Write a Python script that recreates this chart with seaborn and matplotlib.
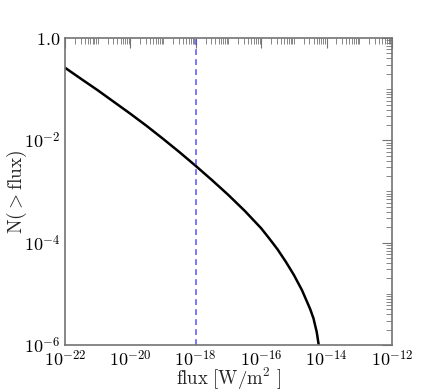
import matplotlib
matplotlib.use("Agg")
import matplotlib.pyplot as plt
import matplotlib.ticker as mticker
import numpy as np
import pandas as pd
import seaborn as sns

# cumulative counts
flux = [1e-22, 3.16e-22, 1e-21, 3.16e-21, 1e-20, 3.16e-20, 1e-19, 3.16e-19,
        1e-18, 3.16e-18, 1e-17, 3.16e-17, 1e-16, 1.78e-16, 3.16e-16, 5.62e-16,
        1e-15, 1.78e-15, 3.16e-15, 3.98e-15, 5.01e-15, 5.75e-15, 6.31e-15]
n_above = [0.263, 0.158, 0.0955, 0.0562, 0.0331, 0.0191, 0.0107, 5.89e-3,
           3.16e-3, 1.66e-3, 8.51e-4, 4.17e-4, 1.91e-4, 1.20e-4, 7.41e-5, 4.27e-5,
           2.34e-5, 1.17e-5, 5.01e-6, 3.31e-6, 1.78e-6, 1.0e-6, 7.08e-7]
flux_limit = 1e-18

df = pd.DataFrame({"flux": flux, "N": n_above})

sns.set_style("white")
plt.rcParams["mathtext.fontset"] = "cm"
plt.rcParams["font.family"] = ["DejaVu Serif"]

fig = plt.figure(figsize=(4.36, 3.92), dpi=100)
ax = fig.add_axes([0.149, 0.12, 0.75, 0.783])

sns.lineplot(data=df, x="flux", y="N", ax=ax, color="black", lw=1.8,
             sort=False, estimator=None)
ax.axvline(flux_limit, color="#4444ff", ls=(0, (3.5, 2.5)), lw=1.2, alpha=0.85)

ax.set_xscale("log")
ax.set_yscale("log")
ax.set_xlim(1e-22, 1e-12)
ax.set_ylim(1e-6, 1.0)


def fmt(v, pos):
    if abs(v - 1.0) < 1e-9:
        return r"$1.0$"
    return r"$10^{%d}$" % int(round(np.log10(v)))


ax.xaxis.set_major_locator(mticker.LogLocator(base=100, numticks=20))
ax.yaxis.set_major_locator(mticker.LogLocator(base=100, numticks=20))
ax.xaxis.set_minor_locator(mticker.LogLocator(base=10, subs=range(1, 10), numticks=200))
ax.yaxis.set_minor_locator(mticker.LogLocator(base=10, subs=range(1, 10), numticks=200))
ax.xaxis.set_major_formatter(mticker.FuncFormatter(fmt))
ax.yaxis.set_major_formatter(mticker.FuncFormatter(fmt))
ax.xaxis.set_minor_formatter(mticker.NullFormatter())
ax.yaxis.set_minor_formatter(mticker.NullFormatter())

ax.tick_params(which="both", direction="in", top=True, right=True,
               labelsize=13, colors="0.45", labelcolor="black")
ax.tick_params(which="major", length=7, width=0.8)
ax.tick_params(which="minor", length=4, width=0.6)
for s in ax.spines.values():
    s.set_color("0.45")
    s.set_linewidth(1.2)

ax.set_xlabel(r"$\mathrm{flux\ [W/m^2\ ]}$", fontsize=13.5, labelpad=-3)
ax.set_ylabel(r"$\mathrm{N(>flux)}$", fontsize=14, labelpad=-4)

fig.savefig("out.png", dpi=100)
